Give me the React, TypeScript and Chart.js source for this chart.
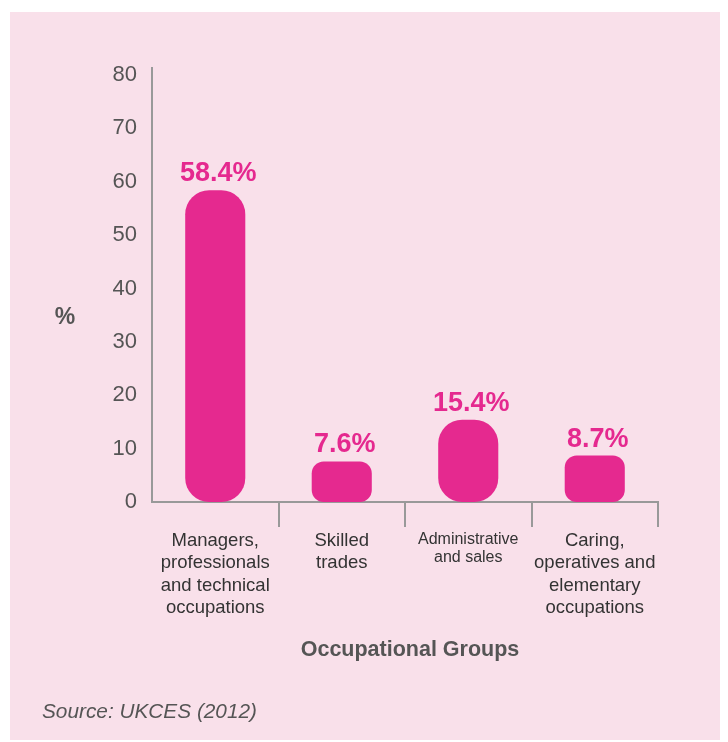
import React, { useEffect, useRef } from "react";
import { Chart, registerables } from "chart.js";

Chart.register(...registerables);

const categories: string[][] = [
  ["Managers,", "professionals", "and technical", "occupations"],
  ["Skilled", "trades"],
  ["Administrative", "and sales"],
  ["Caring,", "operatives and", "elementary", "occupations"],
];
const shares: number[] = [58.4, 7.6, 15.4, 8.7];
const shareLabels: string[] = ["58.4%", "7.6%", "15.4%", "8.7%"];
const yTickStep = 10;
const yMax = 80;
const yTitle = "%";
const xTitle = "Occupational Groups";
const sourceNote = "Source: UKCES (2012)";

const PINK = "#E5298F";
const BG = "#F9E0EA";
const FONT = "'Liberation Sans', Arial, Helvetica, sans-serif";

export default function App() {
  const ref = useRef<HTMLCanvasElement | null>(null);

  useEffect(() => {
    if (!ref.current) return;
    const labelPlugin = {
      id: "extraText",
      afterDatasetsDraw(chart: any) {
        const ctx = chart.ctx;
        const meta = chart.getDatasetMeta(0);
        ctx.save();
        ctx.fillStyle = PINK;
        ctx.font = `bold 27px ${FONT}`;
        ctx.textAlign = "center";
        ctx.textBaseline = "alphabetic";
        meta.data.forEach((bar: any, i: number) => {
          ctx.fillText(shareLabels[i], bar.x + 3, bar.y - 9);
        });
        ctx.restore();
      },
      afterDraw(chart: any) {
        const ctx = chart.ctx;
        const area = chart.chartArea;
        ctx.save();
        ctx.fillStyle = "#555";
        ctx.textBaseline = "middle";
        ctx.textAlign = "center";
        ctx.font = `bold 23px ${FONT}`;
        ctx.fillText(yTitle, 55, 306);
        ctx.font = `bold 21.5px ${FONT}`;
        ctx.fillText(xTitle, (area.left + area.right) / 2 + 5, 638);
        ctx.textAlign = "left";
        ctx.font = `italic 20.8px ${FONT}`;
        ctx.fillText(sourceNote, 32, 700);
        ctx.restore();
      },
    };

    const chart = new Chart(ref.current, {
      type: "bar",
      data: {
        labels: categories,
        datasets: [
          {
            data: shares,
            backgroundColor: PINK,
            borderWidth: 0,
            borderSkipped: false,
            borderRadius: (c: any) => ((c.raw ?? 0) > 10 ? 24 : 12),
            categoryPercentage: 1,
            barPercentage: 0.475,
          },
        ],
      },
      options: {
        animation: false,
        responsive: false,
        devicePixelRatio: 1,
        layout: { padding: { top: 56, left: 0, right: 62, bottom: 0 } },
        plugins: {
          legend: { display: false },
          tooltip: { enabled: false },
        },
        scales: {
          x: {
            grid: {
              display: true,
              drawOnChartArea: false,
              drawTicks: true,
              tickLength: 25,
              lineWidth: 2,
              color: (c: any) => (c.index === 0 ? "rgba(0,0,0,0)" : "#999"),
            },
            border: { display: true, color: "#999", width: 2 },
            ticks: {
              padding: 3,
              color: "#333",
              maxRotation: 0,
              autoSkip: false,
              font: (c: any) =>
                c.index === 2
                  ? { family: FONT, size: 16, lineHeight: 1.15 }
                  : { family: FONT, size: 18.5, lineHeight: 1.2 },
            },
            afterFit(scale: any) {
              scale.height = 238;
            },
          },
          y: {
            min: 0,
            max: 81.3,
            grid: { display: false, drawTicks: false },
            border: { display: true, color: "#999", width: 2 },
            ticks: {
              stepSize: yTickStep,
              includeBounds: false,
              padding: 15,
              color: "#555",
              font: { family: FONT, size: 22 },
              callback: (v: any) => (Number(v) <= yMax ? String(v) : ""),
            },
            afterFit(scale: any) {
              scale.width = 142;
            },
          },
        },
      },
      plugins: [labelPlugin],
    } as any);
    return () => chart.destroy();
  }, []);

  return (
    <div
      style={{
        position: "relative",
        marginLeft: 2,
        marginTop: 4,
        width: 710,
        height: 728,
        background: BG,
      }}
    >
      <canvas
        ref={ref}
        width={710}
        height={728}
        style={{ position: "absolute", left: 0, top: 0, width: 710, height: 728 }}
      />
    </div>
  );
}
